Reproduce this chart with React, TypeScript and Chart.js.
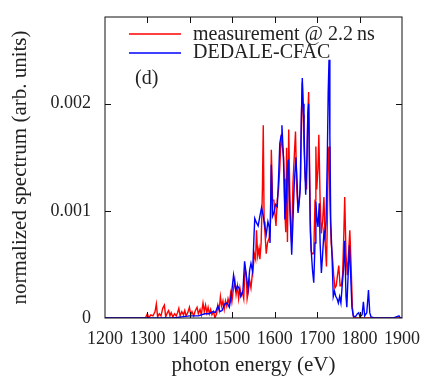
import React, { useEffect, useRef } from "react";
import { Chart, registerables } from "chart.js";

Chart.register(...registerables);

const measLabel = "measurement @ 2.2\u2009ns";
const calcLabel = "DEDALE-CFAC";
const panelLabel = "(d)";
const xTitle = "photon energy (eV)";
const yTitle = "normalized spectrum (arb. units)";

const measEnergy = [
  1200, 1295, 1300, 1303, 1308, 1313, 1318, 1321, 1324, 1328, 1332, 1336, 1340, 1343, 1347, 1350, 1353, 1356,
  1360, 1364, 1368, 1371, 1374, 1377, 1381, 1385, 1388, 1391, 1395, 1399, 1402, 1405, 1409, 1413, 1417, 1420,
  1424, 1427, 1431, 1434, 1437, 1440, 1443, 1446, 1449, 1452, 1456, 1459, 1463, 1466, 1469, 1472, 1475, 1478,
  1481, 1484, 1487, 1490, 1493, 1496, 1499, 1502, 1506, 1509, 1512, 1515, 1518, 1521, 1524, 1527, 1530, 1533,
  1535, 1538, 1541, 1544, 1547, 1550, 1552, 1555, 1557, 1560, 1563, 1565, 1568, 1571, 1573, 1575, 1577, 1580,
  1583, 1587, 1590, 1592, 1595, 1598, 1601, 1603, 1606, 1609, 1612, 1614, 1616, 1618, 1621, 1624, 1626, 1628,
  1630, 1633, 1636, 1638, 1640, 1643, 1646, 1649, 1652, 1655, 1658, 1661, 1663, 1665, 1667, 1669, 1672, 1675,
  1678, 1680, 1682, 1684, 1686, 1689, 1692, 1695, 1697, 1699, 1702, 1704, 1707, 1710, 1713, 1716, 1719, 1722,
  1724, 1726, 1728, 1730, 1733, 1736, 1739, 1742, 1745, 1748, 1751, 1754, 1757, 1760, 1763, 1765, 1768, 1771,
  1774, 1777, 1780, 1783, 1786, 1900,
];
const measValue = [
  0, 0, 0.00004, 0, 0.00003, 0.00002, 0.00006, 0.00013, 0.00001, 0.00004, 0.00002, 0.00009, 0.00012, 0.00001, 0.00005, 0.00007, 0.00002, 0.00005,
  0.00001, 0.00004, 0.00002, 0.00005, 0.00009, 0.00002, 0.00006, 0.00003, 0.00007, 0.00002, 0.00005, 0.0001, 0.00003, 0.00006, 0.00002, 0.00007, 0.0001, 0.00004,
  0.00008, 0.00003, 0.00014, 0.00006, 0.00012, 0.00005, 0.0001, 0.00004, 0.00008, 0.00003, 0.00006, 0, 0.00004, 0.00012, 0.00007, 0.0002, 0.00011, 0.00016,
  0.00008, 0.00016, 0.00011, 0.00018, 0.00013, 0.00023, 0.00015, 0.00025, 0.00035, 0.00022, 0.0003, 0.00018, 0.00028, 0.00021, 0.00024, 0.00018, 0.00047, 0.0004,
  0.00018, 0.00025, 0.00035, 0.00028, 0.0004, 0.0005, 0.0006, 0.00055, 0.00082, 0.00058, 0.00065, 0.00055, 0.0007, 0.0012, 0.0018, 0.0009, 0.0008, 0.0006,
  0.0007, 0.00075, 0.0009, 0.00157, 0.0011, 0.0011, 0.00095, 0.00086, 0.0011, 0.0012, 0.0014, 0.0016, 0.00172, 0.0016, 0.0015, 0.001, 0.0008, 0.00159,
  0.00071, 0.00176, 0.00107, 0.0008, 0.0007, 0.00126, 0.0015, 0.00174, 0.0012, 0.001, 0.0011, 0.0013, 0.0019, 0.0022, 0.0019, 0.0016, 0.0013, 0.0012,
  0.0019, 0.00211, 0.0015, 0.0009, 0.00062, 0.0006, 0.0006, 0.0011, 0.0016, 0.0012, 0.0014, 0.00171, 0.0011, 0.00079, 0.0009, 0.00113, 0.0007, 0.00048,
  0.0009, 0.00154, 0.0016, 0.0011, 0.0007, 0.00057, 0.0004, 0.00028, 0.0003, 0.0004, 0.00049, 0.0003, 0.0003, 0.0004, 0.0008, 0.00113, 0.0006, 0.0004,
  0.0006, 0.00082, 0.0005, 0.0001, 0, 0,
];

const calcEnergy = [
  1200, 1360, 1380, 1400, 1420, 1435, 1445, 1455, 1460, 1466, 1471, 1476, 1482, 1488, 1493, 1498, 1503, 1508,
  1512, 1516, 1520, 1525, 1529, 1533, 1537, 1541, 1544, 1548, 1551, 1553, 1557, 1561, 1565, 1569, 1573, 1577,
  1580, 1584, 1587, 1589, 1592, 1595, 1598, 1602, 1606, 1609, 1612, 1615, 1617, 1620, 1622, 1624, 1627, 1630,
  1632, 1635, 1638, 1640, 1643, 1646, 1650, 1653, 1655, 1658, 1660, 1663, 1665, 1667, 1669, 1671, 1673, 1676,
  1678, 1680, 1682, 1684, 1686, 1689, 1692, 1695, 1697, 1699, 1702, 1705, 1707, 1710, 1713, 1716, 1718, 1721,
  1724, 1726, 1728, 1730, 1732, 1735, 1738, 1741, 1744, 1747, 1750, 1753, 1756, 1759, 1762, 1765, 1768, 1770,
  1773, 1776, 1779, 1782, 1785, 1790, 1795, 1798, 1801, 1806, 1809, 1812, 1817, 1821, 1824, 1827, 1835, 1880,
  1893, 1896, 1900,
];
const calcValue = [
  0, 0, 0.00001, 0.00002, 0.00002, 0.00004, 0.00004, 0.00006, 0.00005, 0.00011, 0.00006, 0.00007, 0.00013, 0.00014, 0.0001, 0.00022, 0.0004, 0.00026,
  0.0003, 0.00028, 0.0002, 0.00025, 0.00053, 0.0004, 0.00027, 0.00045, 0.00051, 0.00043, 0.00075, 0.00093, 0.00089, 0.00086, 0.00095, 0.00103, 0.00095, 0.00085,
  0.00078, 0.0009, 0.00085, 0.0007, 0.00143, 0.00095, 0.00098, 0.00106, 0.00104, 0.0013, 0.00163, 0.0017, 0.0018, 0.00155, 0.0013, 0.00092, 0.0011, 0.0014,
  0.00148, 0.0011, 0.0008, 0.00059, 0.0009, 0.00125, 0.0015, 0.00125, 0.00098, 0.0011, 0.0012, 0.0019, 0.00224, 0.002, 0.00179, 0.0014, 0.00115, 0.0015,
  0.0019, 0.002, 0.0013, 0.0008, 0.00063, 0.00045, 0.00033, 0.0007, 0.00109, 0.00095, 0.00085, 0.00107, 0.0007, 0.00042, 0.0006, 0.0008, 0.00075, 0.0009,
  0.0015, 0.0021, 0.00241, 0.0017, 0.0009, 0.00059, 0.0002, 0.00025, 0.0002, 0.00018, 0.00014, 0.0002, 0.00014, 0.0003, 0.00045, 0.00072, 0.0002, 0.0001,
  0.0004, 0.00068, 0.0004, 0.0001, 0.00002, 0.00001, 0.00004, 0.00005, 0.00001, 0.00003, 0.00015, 0.00002, 0.00005, 0.00026, 0.00005, 0.00001, 0, 0,
  0.00002, 0, 0,
];

const xMin = 1200;
const xMax = 1900;
const xStep = 100;
const yMin = 0;
const yMax = 0.00281;
const yStep = 0.001;

const measColor = "#ff0000";
const calcColor = "#0000ff";
const FONT = "'Liberation Serif', 'Times New Roman', serif";

const framePlugin = {
  id: "frameTicksLegend",
  afterDatasetsDraw(chart: any) {
    const { ctx, chartArea: a, scales } = chart;
    ctx.save();
    ctx.strokeStyle = "#111";
    ctx.lineWidth = 1;
    ctx.strokeRect(a.left, a.top, a.right - a.left, a.bottom - a.top);
    const L = 6;
    ctx.beginPath();
    scales.x.ticks.forEach((t: any) => {
      const px = Math.round(scales.x.getPixelForValue(t.value)) + 0.5;
      if (px <= a.left + 2 || px >= a.right - 2) return;
      ctx.moveTo(px, a.bottom);
      ctx.lineTo(px, a.bottom - L);
      ctx.moveTo(px, a.top);
      ctx.lineTo(px, a.top + L);
    });
    scales.y.ticks.forEach((t: any) => {
      const py = Math.round(scales.y.getPixelForValue(t.value)) + 0.5;
      if (py <= a.top + 2 || py >= a.bottom - 2) return;
      ctx.moveTo(a.left, py);
      ctx.lineTo(a.left + L, py);
      ctx.moveTo(a.right, py);
      ctx.lineTo(a.right - L, py);
    });
    ctx.stroke();

    // legend
    const ds = chart.data.datasets;
    const items = [ds[0], ds[1]];
    const lx0 = a.left + 24;
    const lx1 = a.left + 76;
    const tx = a.left + 88;
    const rows = [a.top + 17, a.top + 36];
    ctx.font = `20px ${FONT}`;
    ctx.textBaseline = "middle";
    ctx.textAlign = "left";
    items.forEach((d: any, i: number) => {
      ctx.strokeStyle = d.borderColor;
      ctx.lineWidth = 1.4;
      ctx.beginPath();
      ctx.moveTo(lx0, rows[i]);
      ctx.lineTo(lx1, rows[i]);
      ctx.stroke();
      ctx.fillStyle = "#222";
      ctx.fillText(d.label, tx, rows[i] + (i === 0 ? 1 : 0));
    });
    ctx.fillText(panelLabel, a.left + 30, a.top + 62);
    ctx.restore();
  },
};

export default function App() {
  const ref = useRef<HTMLCanvasElement | null>(null);
  useEffect(() => {
    document.body.style.margin = "0";
    const canvas = ref.current;
    if (!canvas) return;
    const meas = measEnergy.map((e, i) => ({ x: e, y: measValue[i] }));
    const calc = calcEnergy.map((e, i) => ({ x: e, y: calcValue[i] }));
    const chart = new Chart(canvas, {
      type: "line",
      data: {
        datasets: [
          {
            label: measLabel,
            data: meas,
            borderColor: measColor,
            borderWidth: 1.4,
            pointRadius: 0,
            fill: false,
            tension: 0,
            order: 2,
          },
          {
            label: calcLabel,
            data: calc,
            borderColor: calcColor,
            borderWidth: 1.4,
            pointRadius: 0,
            fill: false,
            tension: 0,
            order: 1,
          },
        ],
      },
      options: {
        animation: false,
        responsive: false,
        devicePixelRatio: 1,
        layout: { padding: { left: 0, right: 33, top: 17, bottom: 0 } },
        plugins: { legend: { display: false }, tooltip: { enabled: false } },
        scales: {
          x: {
            type: "linear",
            min: xMin,
            max: xMax,
            grid: { display: false, drawTicks: false },
            border: { display: false },
            afterFit: (s: any) => {
              s.height = 63;
              s.paddingLeft = 0;
              s.paddingRight = 0;
            },
            ticks: {
              stepSize: xStep,
              autoSkip: false,
              maxRotation: 0,
              padding: 10,
              color: "#222",
              font: { family: FONT, size: 18 },
              callback: (v: any) => String(v),
            },
            title: {
              display: true,
              text: xTitle,
              color: "#222",
              font: { family: FONT, size: 21 },
              padding: { top: 0, bottom: 3 },
            },
          },
          y: {
            type: "linear",
            min: yMin,
            max: yMax,
            grid: { display: false, drawTicks: false },
            border: { display: false },
            afterFit: (s: any) => {
              s.width = 105;
              s.paddingTop = 0;
              s.paddingBottom = 0;
            },
            ticks: {
              stepSize: yStep,
              includeBounds: false,
              padding: 14,
              color: "#222",
              font: { family: FONT, size: 18 },
              callback: (v: any) => (v === 0 ? "0" : Number(v).toFixed(3)),
            },
            title: {
              display: true,
              text: yTitle,
              color: "#222",
              font: { family: FONT, size: 21 },
              padding: { top: 8, bottom: 0 },
            },
          },
        },
      },
      plugins: [framePlugin],
    });
    return () => chart.destroy();
  }, []);
  return (
    <div style={{ position: "absolute", left: 0, top: 0, width: 435, height: 381, background: "#fff" }}>
      <canvas ref={ref} width={435} height={381} />
    </div>
  );
}
